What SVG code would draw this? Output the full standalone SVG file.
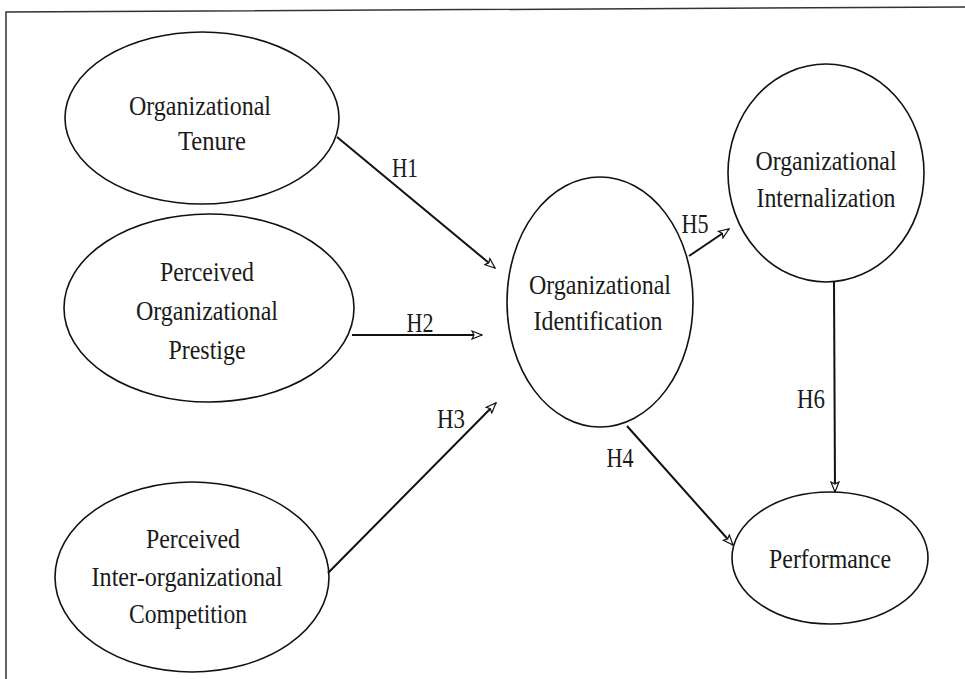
<svg xmlns="http://www.w3.org/2000/svg" width="965" height="679" viewBox="0 0 965 679">
  <style>
    .node ellipse { fill: none; stroke: #111; stroke-width: 1.6; }
    .node text, .label { font-family: "Liberation Serif", "Times New Roman", serif; font-size: 28px; fill: #1a1a1a; text-anchor: middle; lengthAdjust: spacingAndGlyphs; }
    .edge { stroke: #111; stroke-width: 2; fill: none; marker-end: url(#head); }
    .frame { stroke: #333; stroke-width: 1.5; fill: none; }
  </style>
  <defs>
    <marker id="head" viewBox="0 0 12 10" refX="11" refY="5" markerWidth="12" markerHeight="10" markerUnits="userSpaceOnUse" orient="auto">
      <path d="M1,1 L11,5 L1,9 L3,5 Z" fill="#fff" stroke="#111" stroke-width="1.2"/>
    </marker>
  </defs>

  <rect width="965" height="679" fill="#fff"/>

  <!-- page frame -->
  <path class="frame" d="M6,679 L6,12 L965,7"/>

  <!-- nodes -->
  <g id="tenure" class="node">
    <ellipse cx="202" cy="118" rx="137" ry="86"/>
    <text x="200" y="115" textLength="142" lengthAdjust="spacingAndGlyphs">Organizational</text>
    <text x="212" y="150" textLength="68" lengthAdjust="spacingAndGlyphs">Tenure</text>
  </g>

  <g id="prestige" class="node">
    <ellipse cx="209" cy="308" rx="145" ry="94"/>
    <text x="207" y="281" textLength="94" lengthAdjust="spacingAndGlyphs">Perceived</text>
    <text x="207" y="320" textLength="142" lengthAdjust="spacingAndGlyphs">Organizational</text>
    <text x="207" y="359" textLength="77" lengthAdjust="spacingAndGlyphs">Prestige</text>
  </g>

  <g id="competition" class="node">
    <ellipse cx="192" cy="577" rx="137" ry="95"/>
    <text x="193" y="548" textLength="94" lengthAdjust="spacingAndGlyphs">Perceived</text>
    <text x="187" y="586" textLength="191" lengthAdjust="spacingAndGlyphs">Inter-organizational</text>
    <text x="188" y="623" textLength="118" lengthAdjust="spacingAndGlyphs">Competition</text>
  </g>

  <g id="identification" class="node">
    <ellipse cx="600" cy="302" rx="93" ry="125"/>
    <text x="600" y="294" textLength="142" lengthAdjust="spacingAndGlyphs">Organizational</text>
    <text x="598" y="330" textLength="129" lengthAdjust="spacingAndGlyphs">Identification</text>
  </g>

  <g id="internalization" class="node">
    <ellipse cx="826" cy="173" rx="98" ry="109"/>
    <text x="826" y="170" textLength="141" lengthAdjust="spacingAndGlyphs">Organizational</text>
    <text x="826" y="207" textLength="139" lengthAdjust="spacingAndGlyphs">Internalization</text>
  </g>

  <g id="performance" class="node">
    <ellipse cx="830" cy="558" rx="98" ry="66"/>
    <text x="830" y="568" textLength="122" lengthAdjust="spacingAndGlyphs">Performance</text>
  </g>

  <!-- connectors -->
  <g id="connectors">
    <line class="edge" x1="337" y1="137" x2="495" y2="268"/>
    <line class="edge" x1="352" y1="335" x2="482" y2="335"/>
    <line class="edge" x1="328" y1="573" x2="496" y2="403"/>
    <line class="edge" x1="627" y1="426" x2="733" y2="545"/>
    <line class="edge" x1="689" y1="256" x2="729" y2="229"/>
    <line class="edge" x1="834" y1="282" x2="835" y2="492"/>
    <text class="label" x="405" y="177" textLength="26" lengthAdjust="spacingAndGlyphs">H1</text>
    <text class="label" x="420" y="332" textLength="27" lengthAdjust="spacingAndGlyphs">H2</text>
    <text class="label" x="451" y="428" textLength="28" lengthAdjust="spacingAndGlyphs">H3</text>
    <text class="label" x="620" y="467" textLength="27" lengthAdjust="spacingAndGlyphs">H4</text>
    <text class="label" x="695" y="233" textLength="27" lengthAdjust="spacingAndGlyphs">H5</text>
    <text class="label" x="811" y="408" textLength="28" lengthAdjust="spacingAndGlyphs">H6</text>
  </g>
</svg>
